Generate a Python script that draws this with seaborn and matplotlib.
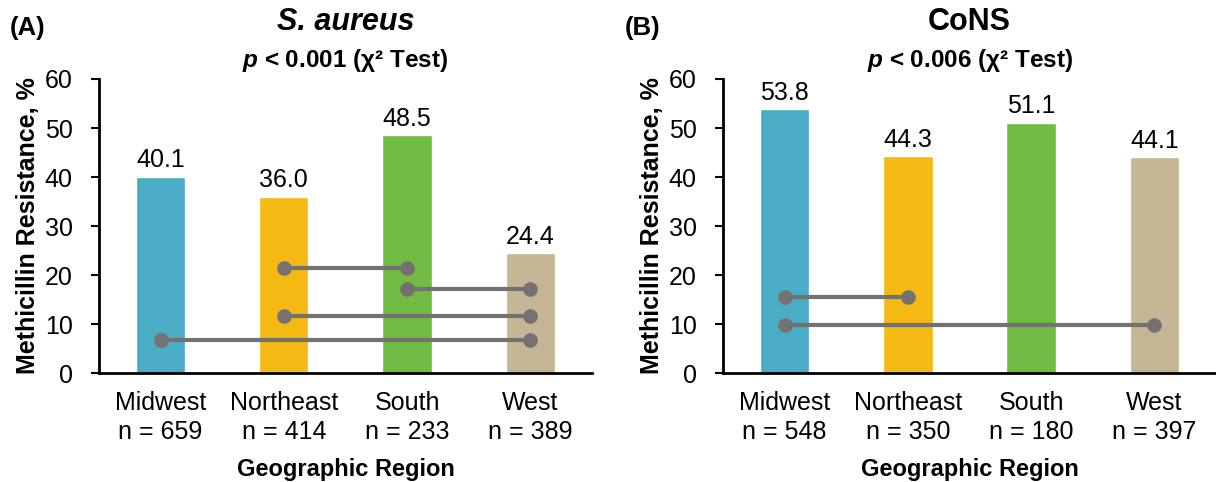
import pandas as pd
import matplotlib.pyplot as plt
import seaborn as sns

# === data ===
regions = ["Midwest", "Northeast", "South", "West"]
sa_pct = [40.1, 36.0, 48.5, 24.4]
sa_n = [659, 414, 233, 389]
cons_pct = [53.8, 44.3, 51.1, 44.1]
cons_n = [548, 350, 180, 397]

# significant pairwise comparisons: (region from, region to, height of bracket)
sa_pairs = [("Northeast", "South", 21.4), ("South", "West", 17.1),
            ("Northeast", "West", 11.7), ("Midwest", "West", 6.7)]
cons_pairs = [("Midwest", "Northeast", 15.5), ("Midwest", "West", 9.8)]

colors = ["#4BACC6", "#F5B914", "#71BB43", "#C4B594"]
line_gray = "#767171"

sns.set_theme(style="ticks")
plt.rcParams["font.family"] = ["Liberation Sans", "DejaVu Sans"]
plt.rcParams["mathtext.fontset"] = "custom"
plt.rcParams["mathtext.it"] = "Liberation Sans:italic:bold"
plt.rcParams["mathtext.rm"] = "Liberation Sans:bold"
for key in ["text.color", "axes.labelcolor", "xtick.color", "ytick.color"]:
    plt.rcParams[key] = "black"

fig = plt.figure(figsize=(12.16, 4.82), dpi=100)
ax_a = fig.add_axes([0.0814, 0.2261, 0.4054, 0.61])
ax_b = fig.add_axes([0.5946, 0.2261, 0.4054, 0.61])


def draw_panel(ax, pct, n, pairs, letter, letter_x, title, ptext, title_style):
    df = pd.DataFrame({"region": regions, "pct": pct})
    sns.barplot(data=df, x="region", y="pct", hue="region", palette=colors,
                width=0.4, legend=False, saturation=1, ax=ax)
    for cont in ax.containers:
        ax.bar_label(cont, fmt="%.1f", padding=3, fontsize=18)

    # significance brackets
    for r1, r2, h in pairs:
        x1, x2 = regions.index(r1), regions.index(r2)
        ax.plot([x1, x2], [h, h], color=line_gray, lw=3, marker="o",
                markersize=9.5, solid_capstyle="round", zorder=5)

    ax.set_xlim(-0.5, 3.5)
    ax.set_ylim(0, 60)
    ax.set_yticks(range(0, 61, 10))
    ax.set_xticks(range(4))
    ax.set_xticklabels([f"{r}\nn = {k}" for r, k in zip(regions, n)], fontsize=18,
                       linespacing=1.25)
    ax.tick_params(axis="y", labelsize=18, length=6, width=1.5, pad=13)
    ax.tick_params(axis="x", length=0, pad=13)
    sns.despine(ax=ax)
    for s in ["left", "bottom"]:
        ax.spines[s].set_linewidth(2)
        ax.spines[s].set_color("black")
    ax.set_xlabel("Geographic Region", fontsize=17, fontweight="bold", labelpad=10)
    ax.set_ylabel("Methicillin Resistance, %", fontsize=18, fontweight="bold", labelpad=3)

    ax.text(0.5, 1.195, title, transform=ax.transAxes, ha="center", va="center",
            fontsize=22, fontweight="bold", fontstyle=title_style)
    ax.text(0.5, 1.062, ptext, transform=ax.transAxes, ha="center", va="center",
            fontsize=17.5, fontweight="bold")
    ax.text(letter_x, 1.173, letter, transform=ax.transAxes, ha="left", va="center",
            fontsize=18.5, fontweight="bold")


draw_panel(ax_a, sa_pct, sa_n, sa_pairs, "(A)", -0.18, "S. aureus",
           r"$p$ < 0.001 (χ² Test)", "italic")
draw_panel(ax_b, cons_pct, cons_n, cons_pairs, "(B)", -0.2, "CoNS",
           r"$p$ < 0.006 (χ² Test)", "normal")

fig.savefig("out.png", dpi=100)
